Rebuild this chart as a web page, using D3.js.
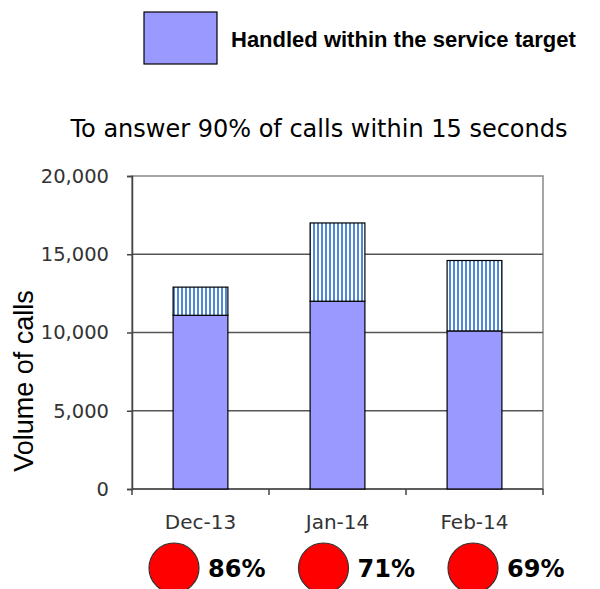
<!DOCTYPE html>
<html>
<head>
<meta charset="utf-8">
<script src="https://cdn.jsdelivr.net/npm/d3@7"></script>
<style>
  body { margin: 0; background: #fff; }
</style>
</head>
<body>
<div class="chart"></div>
<script>
const months = ["Dec-13", "Jan-14", "Feb-14"];
const withinTarget = [11100, 12000, 10100];
const outsideTarget = [1800, 5000, 4500];
const pctLabels = ["86%", "71%", "69%"];
const yTicks = [0, 5000, 10000, 15000, 20000];

const w = 600, h = 589;
const plot = { left: 132, right: 543, top: 176, bottom: 489 };

const svg = d3.select(".chart").append("svg")
  .attr("width", w).attr("height", h);

const defs = svg.append("defs");
const pat = defs.append("pattern")
  .attr("id", "vstripe")
  .attr("patternUnits", "userSpaceOnUse")
  .attr("width", 4).attr("height", 4);
pat.append("rect").attr("width", 4).attr("height", 4).attr("fill", "#fff");
pat.append("rect").attr("x", 1).attr("width", 2).attr("height", 4).attr("fill", "#4f88d6");

const x = d3.scaleBand().domain(months)
  .range([plot.left, plot.right]).paddingInner(0.6).paddingOuter(0.3);
const y = d3.scaleLinear().domain([0, 20000]).range([plot.bottom, plot.top]);

// legend
svg.append("rect")
  .attr("x", 144).attr("y", 12).attr("width", 73).attr("height", 52)
  .attr("fill", "#9999ff").attr("stroke", "#000").attr("stroke-width", 1.2);
svg.append("text")
  .attr("x", 231).attr("y", 47)
  .style("font-family", "Liberation Sans, Arial, sans-serif")
  .style("font-weight", "bold").style("font-size", "22px")
  .text("Handled within the service target");

// title
svg.append("text")
  .attr("x", 319).attr("y", 137).attr("text-anchor", "middle")
  .style("font-family", "DejaVu Sans, Verdana, sans-serif")
  .style("font-size", "24px")
  .text("To answer 90% of calls within 15 seconds");

// plot frame + gridlines
svg.append("rect")
  .attr("x", plot.left).attr("y", plot.top)
  .attr("width", plot.right - plot.left).attr("height", plot.bottom - plot.top)
  .attr("fill", "none").attr("stroke", "#888").attr("stroke-width", 1.5);

svg.append("g").selectAll("line")
  .data(yTicks.filter(d => d > 0 && d < 20000))
  .enter().append("line")
  .attr("x1", plot.left).attr("x2", plot.right)
  .attr("y1", d => y(d)).attr("y2", d => y(d))
  .attr("stroke", "#555").attr("stroke-width", 1.5);

// y axis
const yAxis = svg.append("g")
  .attr("transform", "translate(" + plot.left + ",0)")
  .call(d3.axisLeft(y).tickValues(yTicks).tickSize(5).tickPadding(18)
    .tickFormat(d3.format(",")));
yAxis.select(".domain").attr("stroke", "#444").attr("stroke-width", 1.5);
yAxis.selectAll(".tick line").attr("stroke", "#444").attr("stroke-width", 1.5);
yAxis.selectAll("text")
  .style("font-family", "DejaVu Sans, Verdana, sans-serif")
  .style("font-size", "19.5px").attr("fill", "#333");

// x axis (ticks between categories)
const xAxis = svg.append("g")
  .attr("transform", "translate(0," + plot.bottom + ")");
xAxis.append("line")
  .attr("x1", plot.left).attr("x2", plot.right)
  .attr("stroke", "#444").attr("stroke-width", 1.5);
const bounds = [plot.left].concat(months.map((m, i) => plot.left + (i + 1) * (plot.right - plot.left) / months.length));
xAxis.selectAll(".sep").data(bounds).enter().append("line")
  .attr("x1", d => d).attr("x2", d => d).attr("y1", 0).attr("y2", 6)
  .attr("stroke", "#444").attr("stroke-width", 1.5);
xAxis.selectAll(".lbl").data(months).enter().append("text")
  .attr("x", d => x(d) + x.bandwidth() / 2).attr("y", 40)
  .attr("text-anchor", "middle")
  .style("font-family", "DejaVu Sans, Verdana, sans-serif")
  .style("font-size", "20px").attr("fill", "#333")
  .text(d => d);

// bars
const bars = svg.append("g");
bars.selectAll(".within").data(months).enter().append("rect")
  .attr("x", d => x(d)).attr("width", x.bandwidth())
  .attr("y", (d, i) => y(withinTarget[i]))
  .attr("height", (d, i) => y(0) - y(withinTarget[i]))
  .attr("fill", "#9999ff").attr("stroke", "#000").attr("stroke-width", 1.2);
bars.selectAll(".outside").data(months).enter().append("rect")
  .attr("x", d => x(d)).attr("width", x.bandwidth())
  .attr("y", (d, i) => y(withinTarget[i] + outsideTarget[i]))
  .attr("height", (d, i) => y(withinTarget[i]) - y(withinTarget[i] + outsideTarget[i]))
  .attr("fill", "url(#vstripe)").attr("stroke", "#000").attr("stroke-width", 1.2);

// y label
svg.append("text")
  .attr("transform", "translate(33,381) rotate(-90)")
  .attr("text-anchor", "middle")
  .style("font-family", "Liberation Sans, Arial, sans-serif")
  .style("font-size", "27px")
  .text("Volume of calls");

// RAG badges
const bx = d3.scalePoint().domain(months).range([174, 473]);
const badges = svg.append("g");
badges.selectAll("circle").data(months).enter().append("circle")
  .attr("cx", d => bx(d)).attr("cy", 568).attr("r", 25)
  .attr("fill", "#ff0000").attr("stroke", "#333").attr("stroke-width", 1.2);
badges.selectAll("text").data(months).enter().append("text")
  .attr("x", d => bx(d) + 34).attr("y", 577)
  .style("font-family", "DejaVu Sans, Verdana, sans-serif")
  .style("font-weight", "bold").style("font-size", "24px")
  .text((d, i) => pctLabels[i]);
</script>
</body>
</html>
